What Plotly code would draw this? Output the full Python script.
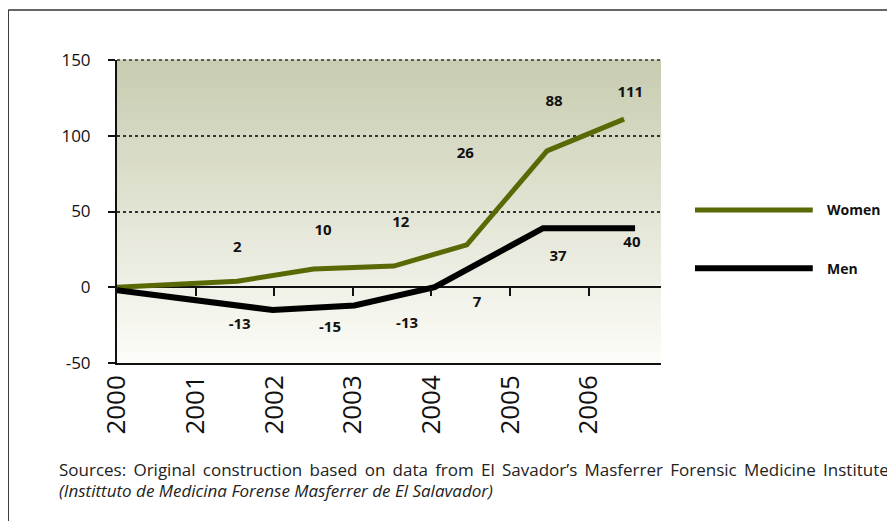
import plotly.graph_objects as go

# --- dados ---
anos = [2000, 2001, 2002, 2003, 2004, 2005, 2006]
anos_txt = [str(a) for a in anos]
y_ticks = [-50, 0, 50, 100, 150]
y_ticks_txt = ["-50", "0", "50", "100", "150"]

# posições (ano) e valores das linhas
mulheres_x = [2000, 2001.53, 2002.5, 2003.52, 2004.45, 2005.47, 2006.45]
mulheres_y = [0, 4, 12, 14, 28, 90, 111]
homens_x = [2000, 2001.98, 2003.02, 2004.04, 2005.42, 2006.59]
homens_y = [-2, -15, -12, 0, 39, 39]

# rótulos de dados (texto) e onde ficam
rot_mulheres = ["2", "10", "12", "26", "88", "111"]
rot_mulheres_x = [2001.53, 2002.62, 2003.61, 2004.43, 2005.56, 2006.53]
rot_mulheres_y = [26, 37, 42.5, 88, 122, 128]
rot_homens = ["-13", "-15", "-13", "7", "37", "40"]
rot_homens_x = [2001.56, 2002.71, 2003.69, 2004.58, 2005.61, 2006.55]
rot_homens_y = [-25, -27, -24.5, -10.5, 20, 29]

fonte_l1 = ["Sources:", "Original", "construction", "based", "on", "data", "from", "El",
            "Savador’s", "Masferrer", "Forensic", "Medicine", "Institute"]
fonte_l2 = "(Instittuto de Medicina Forense Masferrer de El Salavador)"

VERDE = "#5a6905"
FONTE = "Open Sans, Noto Sans, sans-serif"

fig = go.Figure()

# fundo em degradê (faixas finas, de cima para baixo)
n = 60
topo, base = (200, 204, 176), (252, 252, 248)
for i in range(n):
    t = i / (n - 1)
    c = tuple(round(topo[k] + (base[k] - topo[k]) * t) for k in range(3))
    fig.add_shape(type="rect", xref="x domain", yref="y domain",
                  x0=0, x1=1, y0=1 - (i + 1) / n, y1=1 - i / n + 0.002,
                  line_width=0, fillcolor=f"rgb{c}", layer="below")
# linha pontilhada no topo (150)
fig.add_shape(type="line", xref="x domain", yref="y domain", x0=0, x1=1, y0=1, y1=1,
              line=dict(color="#333", width=1.5, dash="dot"))

fig.add_trace(go.Scatter(x=mulheres_x, y=mulheres_y, mode="lines",
                         line=dict(color=VERDE, width=5), showlegend=False))
fig.add_trace(go.Scatter(x=homens_x, y=homens_y, mode="lines",
                         line=dict(color="#000000", width=6), showlegend=False))
for xs, ys, tx in [(rot_mulheres_x, rot_mulheres_y, rot_mulheres),
                   (rot_homens_x, rot_homens_y, rot_homens)]:
    fig.add_trace(go.Scatter(x=xs, y=ys, mode="text", text=tx, showlegend=False,
                             textfont=dict(family=FONTE, size=15, color="#111",
                                           weight="bold")))
# eixo auxiliar só para os traços sobre a linha do zero
fig.add_trace(go.Scatter(x=[2001], y=[None], xaxis="x2", showlegend=False,
                         hoverinfo="skip"))

# legenda desenhada à mão (linhas compridas como no original)
for nome, cor, yy, lw in [("Women", VERDE, 0.505, 5), ("Men", "#000000", 0.313, 6)]:
    fig.add_shape(type="line", xref="paper", yref="paper",
                  x0=1.0625, x1=1.279, y0=yy, y1=yy,
                  line=dict(color=cor, width=lw))
    fig.add_annotation(xref="paper", yref="paper", x=1.301, y=yy,
                       xanchor="left", yanchor="middle", showarrow=False,
                       text=f"<b>{nome}</b>",
                       font=dict(family=FONTE, size=14, color="#111"))

# moldura do quadro (topo e lado esquerdo)
fig.add_shape(type="line", xref="paper", yref="paper", x0=-0.2, x1=1.6,
              y0=1.165, y1=1.165, line=dict(color="#333", width=1.5))
fig.add_shape(type="line", xref="paper", yref="paper", x0=-0.2, x1=-0.2,
              y0=1.165, y1=-0.7, line=dict(color="#333", width=1.5))

# fonte (primeira linha "justificada" com espaços extras)
fig.add_annotation(xref="paper", yref="paper", x=-0.1103, y=-0.353,
                   xanchor="left", yanchor="middle", showarrow=False,
                   text=" \u2009".join(fonte_l1),
                   font=dict(family=FONTE, size=17, color="#222"))
fig.add_annotation(xref="paper", yref="paper", x=-0.1103, y=-0.4224,
                   xanchor="left", yanchor="middle", showarrow=False,
                   text=f"<i>{fonte_l2}</i>",
                   font=dict(family=FONTE, size=17, color="#222"))

faixa_x = [2000, 2006.92]
fig.update_layout(
    width=887, height=513,
    margin=dict(l=109, r=234, t=52, b=158),
    paper_bgcolor="white", plot_bgcolor="white",
    font=dict(family=FONTE, color="#111"),
    xaxis=dict(range=faixa_x, tickvals=anos, ticktext=anos_txt, tickangle=-90,
               showgrid=False, zeroline=False, ticks="",
               showline=True, linecolor="#111", linewidth=1.5,
               tickfont=dict(size=26, color="#111")),
    xaxis2=dict(range=faixa_x, overlaying="x", anchor="free", position=0.25,
                tickvals=anos[1:], ticks="outside", ticklen=8, tickwidth=1.5,
                tickcolor="#111", showticklabels=False, showgrid=False,
                zeroline=False, showline=False),
    yaxis=dict(range=[-50, 150], tickvals=y_ticks, ticktext=y_ticks_txt,
               showgrid=True, gridcolor="#333", griddash="dot", gridwidth=1.5,
               zeroline=True, zerolinecolor="#111", zerolinewidth=1.5,
               showline=True, linecolor="#111", linewidth=2,
               ticks="outside", ticklen=7, tickwidth=1.5, tickcolor="#111",
               ticklabelstandoff=14,
               tickfont=dict(size=17, color="#111")),
)

fig.write_html("out.html")
